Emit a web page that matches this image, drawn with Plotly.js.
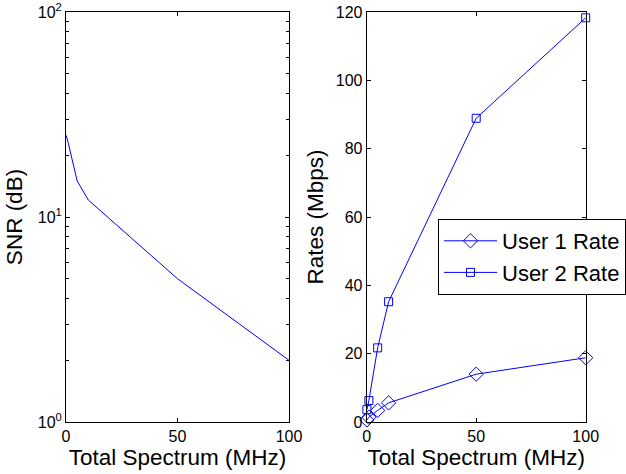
<!DOCTYPE html>
<html><head><meta charset="utf-8">
<script src="https://cdn.plot.ly/plotly-3.0.1.min.js"></script>
<style>html,body{margin:0;padding:0;background:#fff}#chart{width:626px;height:474px}</style>
</head><body><div id="chart"></div>
<script>
const spectrum = [0.1, 1, 5, 10, 50, 100];
const snr = [25, 23, 15, 12.1, 5.0, 2.0];
const user1Rate = [0.6, 1.4, 3.4, 5.6, 14.0, 18.8];
const user2Rate = [3.6, 6.3, 21.7, 35.2, 88.9, 118.3];
const snrTickVals = [1, 10, 100];
const snrTickText = ['10<sup>0</sup>', '10<sup>1</sup>', '10<sup>2</sup>'];
const snrMinorVals = [2,3,4,5,6,7,8,9,20,30,40,50,60,70,80,90];
const xTickVals = [0, 50, 100];
const rateTickVals = [0, 20, 40, 60, 80, 100, 120];

const FONT = 'Liberation Sans, Arial, Helvetica, sans-serif';
const BLUE = '#0000ff';

const traces = [
  {x: spectrum, y: snr, xaxis: 'x', yaxis: 'y', mode: 'lines', showlegend: false,
   line: {color: BLUE, width: 1}},
  {x: spectrum, y: user1Rate, xaxis: 'x2', yaxis: 'y2', mode: 'lines+markers', name: 'User 1 Rate',
   line: {color: BLUE, width: 1}, cliponaxis: false,
   marker: {symbol: 'diamond-open', size: 11, color: BLUE, line: {width: 1, color: BLUE}}},
  {x: spectrum, y: user2Rate, xaxis: 'x2', yaxis: 'y2', mode: 'lines+markers', name: 'User 2 Rate',
   line: {color: BLUE, width: 1}, cliponaxis: false,
   marker: {symbol: 'square-open', size: 8, color: BLUE, line: {width: 1, color: BLUE}}}
];

const axBase = {
  showline: true, mirror: 'ticks', linecolor: '#000', linewidth: 1,
  ticks: 'inside', ticklen: 4, tickcolor: '#000', tickwidth: 1,
  showgrid: false, zeroline: false,
  tickfont: {family: FONT, size: 16, color: '#000'}
};
const titleFont = {family: FONT, size: 22.5, color: '#000'};

const layout = {
  width: 626, height: 474,
  margin: {l: 0, r: 0, t: 0, b: 0, autoexpand: false},
  paper_bgcolor: '#fff', plot_bgcolor: '#fff',
  font: {family: FONT, color: '#000'},
  xaxis: Object.assign({}, axBase, {
    domain: [66/626, 289/626], anchor: 'y', range: [0, 100],
    tickmode: 'array', tickvals: xTickVals,
    title: {text: 'Total Spectrum (MHz)', font: titleFont, standoff: 3}
  }),
  yaxis: Object.assign({}, axBase, {
    domain: [1 - 422/474, 1 - 12/474], anchor: 'x', type: 'log', range: [0, 2],
    tickmode: 'array', tickvals: snrTickVals, ticktext: snrTickText,
    minor: {tickmode: 'array', tickvals: snrMinorVals, ticks: 'inside', ticklen: 3, tickcolor: '#000', showgrid: false},
    title: {text: 'SNR (dB)', font: titleFont, standoff: 8}
  }),
  xaxis2: Object.assign({}, axBase, {
    domain: [366.7/626, 585.7/626], anchor: 'y2', range: [0, 100],
    tickmode: 'array', tickvals: xTickVals,
    title: {text: 'Total Spectrum (MHz)', font: titleFont, standoff: 3}
  }),
  yaxis2: Object.assign({}, axBase, {
    domain: [1 - 422/474, 1 - 12/474], anchor: 'x2', range: [0, 120],
    tickmode: 'array', tickvals: rateTickVals,
    title: {text: 'Rates (Mbps)', font: titleFont, standoff: 5}
  }),
  showlegend: true,
  legend: {
    x: 438/626, y: 1 - 219/474, xanchor: 'left', yanchor: 'top',
    bgcolor: '#fff', bordercolor: '#000', borderwidth: 1,
    font: {family: FONT, size: 22, color: '#000'}, itemwidth: 53
  }
};

Plotly.newPlot('chart', traces, layout, {staticPlot: true, displayModeBar: false});
</script>
</body></html>
